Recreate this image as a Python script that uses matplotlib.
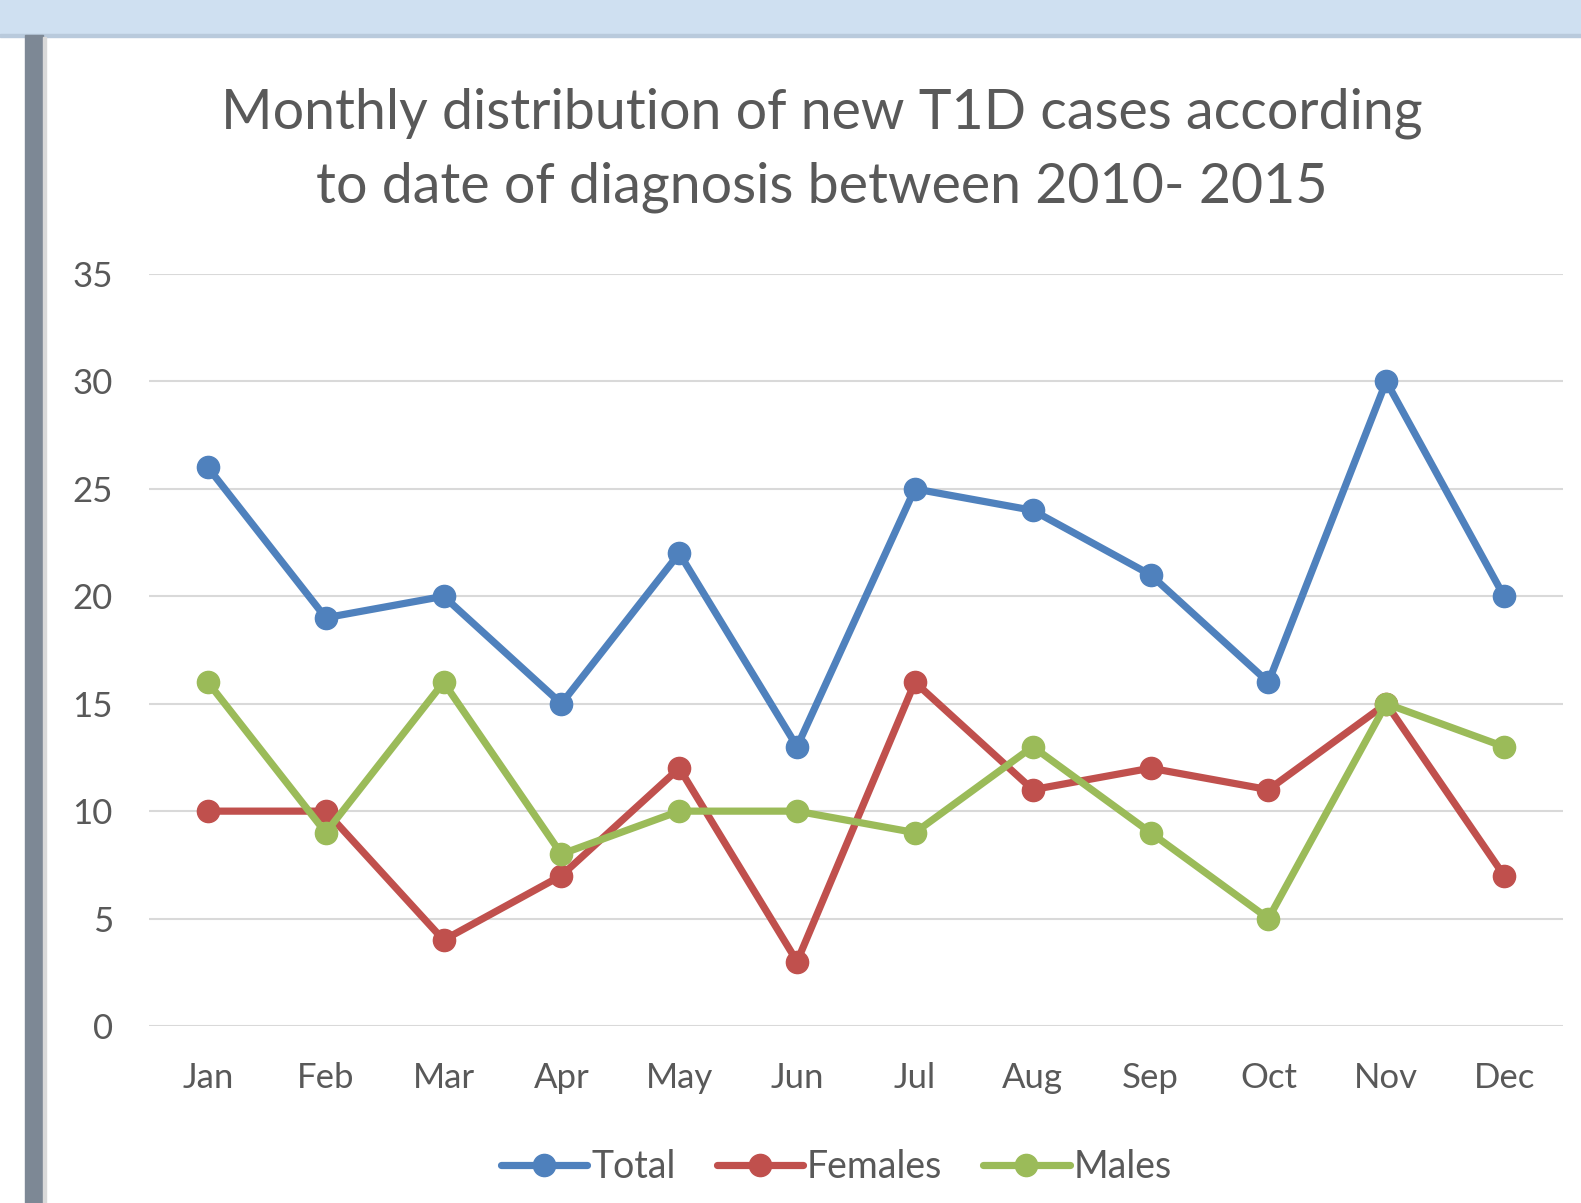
import matplotlib
matplotlib.use('Agg')
import matplotlib.pyplot as plt
from matplotlib.patches import Rectangle

months = ['Jan', 'Feb', 'Mar', 'Apr', 'May', 'Jun', 'Jul', 'Aug', 'Sep', 'Oct', 'Nov', 'Dec']
total = [26, 19, 20, 15, 22, 13, 25, 24, 21, 16, 30, 20]
females = [10, 10, 4, 7, 12, 3, 16, 11, 12, 11, 15, 7]
males = [16, 9, 16, 8, 10, 10, 9, 13, 9, 5, 15, 13]
series = [('Total', total, '#4F81BD'), ('Females', females, '#C0504D'), ('Males', males, '#9BBB59')]

W, H = 1581, 1203
plt.rcParams['font.family'] = ['Lato', 'DejaVu Sans']
fig = plt.figure(figsize=(W/100, H/100), dpi=100)

# window chrome around the chart (screenshot frame)
fig.patches.append(Rectangle((0, 1 - 35/H), 1, 35/H, transform=fig.transFigure, color='#CFE0F1', zorder=0))
fig.patches.append(Rectangle((0, 1 - 37/H), 1, 3/H, transform=fig.transFigure, color='#B9CADC', zorder=0))
fig.patches.append(Rectangle((25/W, 0), 18/W, 1 - 35/H, transform=fig.transFigure, color='#7D8895', zorder=0))
fig.patches.append(Rectangle((43/W, 0), 3/W, 1 - 37/H, transform=fig.transFigure, color='#D9D9D9', zorder=0))

ax = fig.add_axes([149/W, 177/H, (1563-149)/W, (1026-274)/H])
x = range(len(months))
for name, vals, col in series:
    ax.plot(x, vals, color=col, lw=5.2, marker='o', ms=16, label=name, solid_capstyle='round')

ax.set_xlim(-0.5, 11.5)
ax.set_ylim(0, 35)
ax.set_yticks(range(0, 36, 5))
ax.set_xticks(list(x))
ax.set_xticklabels(months)
ax.grid(axis='y', color='#D9D9D9', lw=1.5)
ax.set_axisbelow(True)
for s in ax.spines.values():
    s.set_visible(False)
ax.tick_params(length=0, labelsize=25, labelcolor='#595959')
ax.tick_params(axis='y', pad=26)
ax.tick_params(axis='x', pad=26)

fig.text(0.52, 1 - 150/H, 'Monthly distribution of new T1D cases according\nto date of diagnosis between 2010- 2015',
         ha='center', va='center', fontsize=40, color='#595959', linespacing=1.55)

fig.legend(loc='center', bbox_to_anchor=(0.529, 1 - 1167/H), ncol=3, frameon=False,
           fontsize=27, labelcolor='#595959', handlelength=2.3, handletextpad=0.1, columnspacing=1.1)

plt.savefig('out.png', dpi=100)
